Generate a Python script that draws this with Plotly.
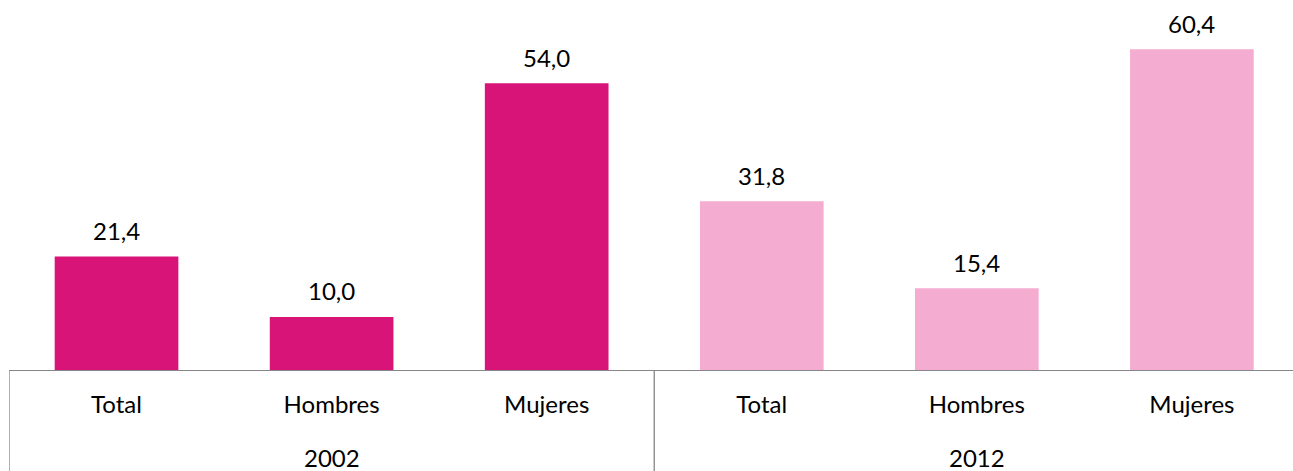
import plotly.graph_objects as go

years = ["2002", "2012"]
groups = ["Total", "Hombres", "Mujeres", "Total", "Hombres", "Mujeres"]
values = [21.4, 10.0, 54.0, 31.8, 15.4, 60.4]
colors = ["#D91478"] * 3 + ["#F4ACD0"] * 3

FONT = "Lato"
FS = 24
xs = list(range(len(values)))

fig = go.Figure()
fig.add_trace(go.Bar(
    x=xs, y=values,
    marker=dict(color=colors, line=dict(width=0)),
    width=0.575,
    hoverinfo="skip",
))
for x, v in zip(xs, values):
    fig.add_annotation(
        x=x, y=v, text=f"{v:.1f}".replace(".", ","),
        showarrow=False, yanchor="middle", yshift=26,
        font=dict(family=FONT, size=FS, color="#000000"),
    )
for i, yr in enumerate(years):
    fig.add_annotation(
        x=3 * i + 1, y=0, yref="paper", text=yr,
        showarrow=False, yanchor="middle", yshift=-87,
        font=dict(family=FONT, size=FS, color="#000000"),
    )
for xd in [-0.5, 2.5]:
    fig.add_shape(type="line", xref="x", yref="paper",
                  x0=xd, x1=xd, y0=0, y1=-0.3,
                  line=dict(color="#868686", width=1.3))

fig.update_layout(
    width=1293, height=471,
    margin=dict(l=9, r=0, t=0, b=101),
    paper_bgcolor="white", plot_bgcolor="white",
    showlegend=False,
    hovermode=False,
    font=dict(family=FONT, size=FS, color="#000000"),
    xaxis=dict(
        range=[-0.5, 5.47], automargin=False,
        tickvals=xs, ticktext=groups,
        showline=True, linecolor="#868686", linewidth=1.3,
        ticks="", showgrid=False, zeroline=False,
        ticklabelstandoff=13,
        tickfont=dict(family=FONT, size=FS, color="#000000"),
    ),
    yaxis=dict(range=[0, 69.7], visible=False, showgrid=False, automargin=False),
)
fig.write_html("out.html", config={"displayModeBar": False, "staticPlot": True},
               post_script="document.body.style.margin='0';")
